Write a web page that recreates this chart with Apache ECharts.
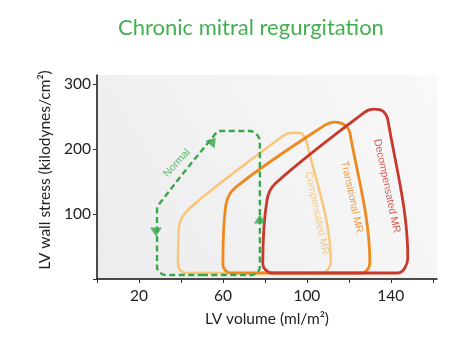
<!DOCTYPE html>
<html>
<head>
<meta charset="utf-8">
<script src="https://cdn.jsdelivr.net/npm/echarts@6/dist/echarts.min.js"></script>
<style>html,body{margin:0;padding:0;background:#fff}#c{width:474px;height:347px}</style>
</head>
<body>
<div id="c"></div>
<script>
// ---- data (LV volume ml/m², LV wall stress kilodynes/cm²) ----
const xTickValues = [0, 20, 40, 60, 80, 100, 120, 140, 160];
const xLabelValues = [20, 60, 100, 140];
const yTickValues = [0, 100, 200, 300];
const yLabelValues = [100, 200, 300];

const normalLoop = [
  [50, 6.2], [73.8, 6.2], [77.6, 18.5], [77.6, 212.3], [72.9, 227.7], [58.6, 227.7],
  [54.8, 216.9], [30, 116.9], [28.6, 106.2], [28.6, 18.5], [32.4, 6.2], [50, 6.2]
];
const compensatedLoop = [
  [72.9, 9.2], [107.1, 9.2], [111.4, 26.2], [100, 209.2], [96.7, 224.6], [91.9, 224.6],
  [88.6, 220], [44.3, 109.2], [39, 78.5], [38.6, 21.5], [42.4, 9.2], [72.9, 9.2]
];
const transitionalLoop = [
  [96.7, 9.2], [126.2, 9.2], [130, 24.6], [120.5, 224.6], [118.1, 236.9], [113.3, 241.5],
  [108.6, 236.9], [66.2, 141.5], [61.4, 113.8], [60, 21.5], [63.8, 9.2], [96.7, 9.2]
];
const decompensatedLoop = [
  [111, 9.2], [143.3, 9.2], [148.1, 32.3], [138.6, 244.6], [136.2, 258.5], [131.9, 261.5],
  [127.6, 256.9], [85.2, 147.7], [81, 121.5], [79, 23.1], [83.3, 9.2], [111, 9.2]
];
const arrowPoints = [[28.1, 72.3], [77.6, 92.3], [55.2, 212.3]];
const arrowDirections = [180, 0, -40];

const loopNames = ['Normal', 'Compensated MR', 'Transitional MR', 'Decompensated MR'];
const labelPoints = [[38.1, 178.5], [104.8, 101.5], [121.4, 126.2], [138.1, 143.1]];
const labelAngles = [47, -78, -78, -78];

// ---- chart ----
const colors = ['#3aa64a', '#f7c77e', '#ee8a1d', '#c8392b'];
const labelColors = ['#3aa64a', '#f2bf72', '#ec8a22', '#c8392b'];
const chart = echarts.init(document.getElementById('c'), null, {renderer: 'canvas'});

const loopSeries = (data, color, width, dashed, z) => ({
  type: 'line', data: data, smooth: 0.35, showSymbol: false, symbol: 'none', z: z,
  lineStyle: {color: color, width: width, type: dashed ? [6, 3.5] : 'solid', cap: 'butt', join: 'round'},
  silent: true, animation: false
});

chart.setOption({
  animation: false,
  title: {
    text: 'Chronic mitral regurgitation', left: 113, top: 12,
    textStyle: {color: '#43b04f', fontSize: 22, fontWeight: 'normal', fontFamily: 'Lato'}
  },
  grid: {
    left: 97, right: 37, top: 75, bottom: 68, show: true, borderWidth: 0,
    backgroundColor: new echarts.graphic.LinearGradient(0, 1, 1, 0, [
      {offset: 0, color: '#ececee'}, {offset: 1, color: '#f9f9f9'}
    ])
  },
  xAxis: {
    type: 'value', min: 0, max: 162,
    name: 'LV volume (ml/m²)', nameLocation: 'middle', nameGap: 32,
    nameTextStyle: {color: '#222', fontSize: 15.5, fontFamily: 'Lato'},
    axisLine: {lineStyle: {color: '#111', width: 1.5}},
    axisTick: {show: true, length: 4, lineStyle: {color: '#333'}, customValues: xTickValues},
    axisLabel: {color: '#222', fontSize: 15.5, fontFamily: 'Lato', margin: 9, customValues: xLabelValues},
    splitLine: {show: false}
  },
  yAxis: {
    type: 'value', min: 0, max: 314,
    name: 'LV wall stress (kilodynes/cm²)', nameLocation: 'middle', nameGap: 42,
    nameTextStyle: {color: '#222', fontSize: 15.5, fontFamily: 'Lato', padding: [0, 0, 0, 14]},
    axisLine: {show: true, lineStyle: {color: '#111', width: 1.5}},
    axisTick: {show: true, length: 4, lineStyle: {color: '#333'}, customValues: yTickValues},
    axisLabel: {color: '#222', fontSize: 15.5, fontFamily: 'Lato', margin: 6, customValues: yLabelValues},
    splitLine: {show: false}
  },
  series: [
    loopSeries(compensatedLoop, colors[1], 2.5, false, 2),
    loopSeries(transitionalLoop, colors[2], 2.8, false, 3),
    loopSeries(decompensatedLoop, colors[3], 2.8, false, 4),
    loopSeries(normalLoop, colors[0], 2.4, true, 5),
    {
      type: 'scatter', z: 6, silent: true,
      data: arrowPoints.map((p, i) => ({value: p, symbolRotate: arrowDirections[i]})),
      symbol: 'triangle', symbolSize: [12, 9],
      itemStyle: {color: colors[0]}
    },
    {
      type: 'scatter', z: 7, silent: true, symbolSize: 0,
      data: labelPoints.map((p, i) => ({
        value: p,
        label: {show: true, position: 'inside', formatter: loopNames[i], rotate: labelAngles[i],
                color: labelColors[i], fontSize: 10.5, fontFamily: 'Liberation Sans'}
      }))
    }
  ]
});
</script>
</body>
</html>
